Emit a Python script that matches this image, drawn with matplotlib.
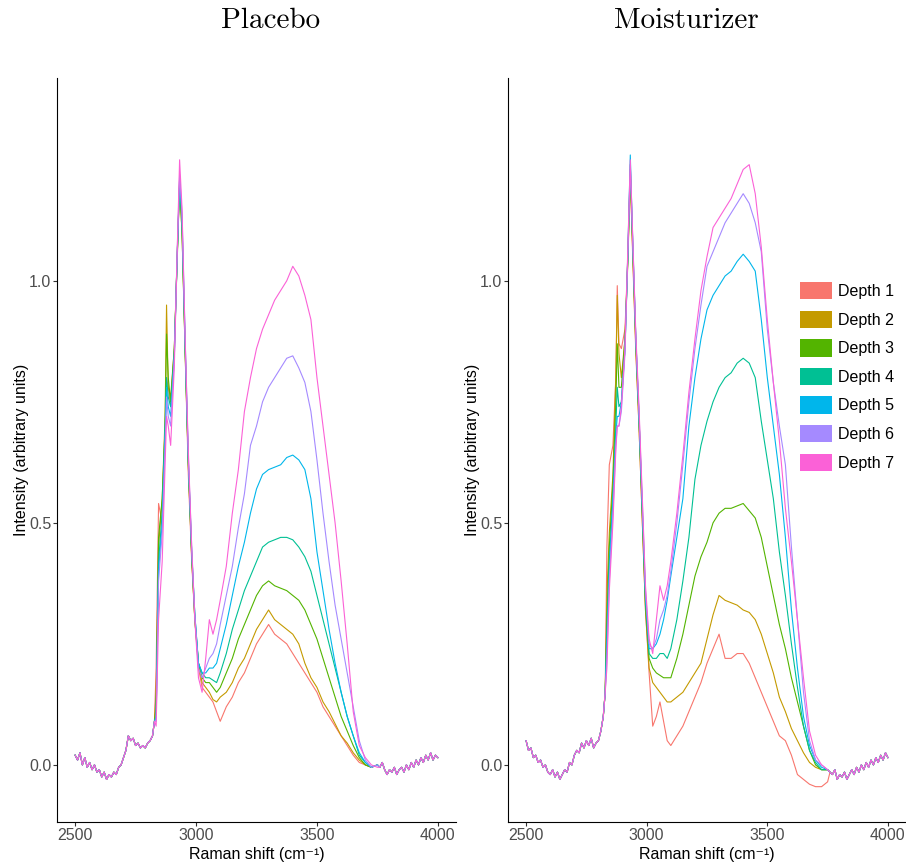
import numpy as np
import matplotlib
matplotlib.use("Agg")
import matplotlib.pyplot as plt
from matplotlib.patches import Patch

plt.rcParams["font.family"] = ["Liberation Sans", "DejaVu Sans"]
plt.rcParams["mathtext.default"] = "regular"

depths = ["Depth 1", "Depth 2", "Depth 3", "Depth 4", "Depth 5", "Depth 6", "Depth 7"]
colores = ["#F8766D", "#C49A00", "#53B400", "#00C094", "#00B6EB", "#A58AFF", "#FB61D7"]

# baseline compartida (2500-2828) y cola (3760-4000)
x_base = [2500, 2510, 2520, 2530, 2540, 2550, 2560, 2570, 2580, 2590, 2600, 2610,
          2620, 2630, 2640, 2650, 2660, 2670, 2680, 2690, 2700, 2710, 2720, 2730,
          2740, 2750, 2760, 2770, 2780, 2790, 2800, 2810, 2820, 2828]
x_medio = [2835, 2845, 2860, 2872, 2878, 2885, 2895, 2910, 2922, 2932, 2942, 2955,
           2968, 2982, 2995, 3010,
           3025, 3040, 3055, 3070, 3085, 3100, 3125, 3150, 3175, 3200, 3225, 3250,
           3275, 3300, 3325, 3350, 3375, 3400, 3425, 3450, 3475, 3500, 3525, 3550,
           3575, 3600, 3625, 3650, 3675, 3700, 3725, 3750]
x_cola = [3760, 3770, 3780, 3790, 3800, 3810, 3820, 3830, 3840, 3850, 3860, 3870,
          3880, 3890, 3900, 3910, 3920, 3930, 3940, 3950, 3960, 3970, 3980, 3990, 4000]

placebo_base = [0.02, 0.01, 0.025, 0.0, 0.015, -0.005, 0.005, -0.01, 0.0, -0.015, -0.01, -0.025,
                -0.015, -0.03, -0.02, -0.025, -0.015, -0.02, -0.005, 0.0, 0.015, 0.03, 0.06, 0.05,
                0.055, 0.04, 0.045, 0.035, 0.04, 0.035, 0.045, 0.05, 0.06, 0.09]
placebo_cola = [-0.005, 0.005, -0.01, -0.02, -0.01, -0.015, -0.005, -0.02, -0.01, -0.005,
                -0.015, 0.0, -0.01, 0.005, -0.005, 0.01, 0.0, 0.015, 0.005, 0.02,
                0.01, 0.025, 0.01, 0.02, 0.015]

placebo_d1 = [0.2, 0.54, 0.5, 0.68, 0.8, 0.78, 0.74, 0.85, 1.05, 1.2, 1.12, 0.85, 0.6, 0.42, 0.3, 0.2,
              0.16, 0.15, 0.14, 0.13, 0.11, 0.09, 0.12, 0.14, 0.17, 0.19, 0.22, 0.25, 0.27, 0.29,
              0.27, 0.26, 0.25, 0.23, 0.21, 0.19, 0.17, 0.15, 0.12, 0.10, 0.08, 0.06, 0.04, 0.02,
              0.005, 0.0, -0.005, 0.0]
placebo_d2 = [0.15, 0.45, 0.55, 0.72, 0.95, 0.78, 0.76, 0.86, 1.05, 1.2, 1.1, 0.86, 0.62, 0.43, 0.3, 0.21,
              0.17, 0.16, 0.15, 0.135, 0.13, 0.14, 0.15, 0.17, 0.2, 0.22, 0.25, 0.28, 0.3, 0.32,
              0.3, 0.29, 0.28, 0.27, 0.25, 0.21, 0.18, 0.16, 0.13, 0.11, 0.085, 0.06, 0.045, 0.025,
              0.01, 0.0, -0.005, 0.0]
placebo_d3 = [0.12, 0.47, 0.55, 0.7, 0.89, 0.8, 0.75, 0.86, 1.04, 1.2, 1.1, 0.85, 0.62, 0.43, 0.3, 0.21,
              0.18, 0.17, 0.17, 0.16, 0.15, 0.16, 0.19, 0.22, 0.26, 0.29, 0.32, 0.35, 0.37, 0.38,
              0.37, 0.365, 0.36, 0.35, 0.34, 0.32, 0.29, 0.26, 0.22, 0.18, 0.14, 0.1, 0.07, 0.04,
              0.015, 0.0, -0.005, 0.0]
placebo_d4 = [0.1, 0.42, 0.52, 0.7, 0.8, 0.76, 0.74, 0.85, 1.05, 1.21, 1.12, 0.86, 0.63, 0.44, 0.31, 0.21,
              0.19, 0.18, 0.18, 0.175, 0.17, 0.19, 0.23, 0.28, 0.32, 0.36, 0.39, 0.42, 0.45, 0.46,
              0.465, 0.47, 0.47, 0.465, 0.45, 0.43, 0.4, 0.35, 0.3, 0.25, 0.2, 0.15, 0.1, 0.06,
              0.02, 0.005, -0.005, 0.0]
placebo_d5 = [0.1, 0.4, 0.5, 0.68, 0.78, 0.74, 0.72, 0.84, 1.05, 1.21, 1.13, 0.87, 0.63, 0.44, 0.31, 0.21,
              0.19, 0.19, 0.2, 0.2, 0.21, 0.24, 0.29, 0.35, 0.41, 0.46, 0.52, 0.57, 0.6, 0.61,
              0.615, 0.62, 0.635, 0.64, 0.63, 0.61, 0.55, 0.44, 0.36, 0.28, 0.21, 0.15, 0.1, 0.06,
              0.025, 0.005, -0.005, 0.0]
placebo_d6 = [0.09, 0.38, 0.48, 0.66, 0.76, 0.72, 0.7, 0.84, 1.06, 1.22, 1.14, 0.88, 0.64, 0.45, 0.31, 0.2,
              0.18, 0.2, 0.22, 0.23, 0.25, 0.29, 0.35, 0.41, 0.49, 0.56, 0.66, 0.7, 0.75, 0.78,
              0.8, 0.82, 0.84, 0.845, 0.82, 0.79, 0.73, 0.63, 0.52, 0.42, 0.33, 0.26, 0.19, 0.12,
              0.05, 0.01, -0.005, 0.0]
placebo_d7 = [0.08, 0.3, 0.42, 0.62, 0.72, 0.7, 0.66, 0.82, 1.06, 1.25, 1.15, 0.88, 0.65, 0.45, 0.3, 0.18,
              0.15, 0.22, 0.3, 0.27, 0.3, 0.34, 0.41, 0.52, 0.61, 0.73, 0.8, 0.86, 0.9, 0.93,
              0.96, 0.98, 1.0, 1.03, 1.01, 0.97, 0.92, 0.8, 0.7, 0.6, 0.5, 0.38, 0.25, 0.11,
              0.04, 0.015, 0.0, -0.005]

moist_base = [0.05, 0.03, 0.035, 0.015, 0.02, 0.005, 0.01, -0.005, 0.0, -0.015, -0.02, -0.01,
              -0.025, -0.015, -0.03, -0.02, -0.01, -0.015, 0.005, 0.0, 0.02, 0.03, 0.025, 0.045,
              0.035, 0.05, 0.04, 0.055, 0.035, 0.045, 0.05, 0.07, 0.1, 0.15]
moist_cola = [-0.015, -0.02, -0.01, -0.03, -0.02, -0.025, -0.015, -0.03, -0.02, -0.01,
              -0.02, -0.005, -0.015, 0.0, -0.01, 0.005, -0.005, 0.01, 0.0, 0.015,
              0.005, 0.02, 0.01, 0.025, 0.015]

moist_d1 = [0.45, 0.62, 0.66, 0.8, 0.99, 0.87, 0.86, 0.9, 1.05, 1.22, 1.05, 0.85, 0.7, 0.5, 0.32, 0.19,
            0.08, 0.1, 0.13, 0.09, 0.05, 0.04, 0.06, 0.08, 0.11, 0.14, 0.17, 0.21, 0.24, 0.27,
            0.22, 0.22, 0.23, 0.23, 0.21, 0.18, 0.15, 0.12, 0.09, 0.06, 0.05, 0.02, -0.02, -0.03,
            -0.04, -0.045, -0.045, -0.035]
moist_d2 = [0.35, 0.48, 0.6, 0.8, 0.97, 0.85, 0.8, 0.88, 1.04, 1.22, 1.06, 0.86, 0.7, 0.5, 0.32, 0.2,
            0.17, 0.16, 0.15, 0.14, 0.13, 0.13, 0.14, 0.15, 0.17, 0.19, 0.21, 0.26, 0.31, 0.35,
            0.34, 0.335, 0.33, 0.32, 0.315, 0.3, 0.27, 0.23, 0.19, 0.14, 0.11, 0.075, 0.05, 0.025,
            0.005, -0.005, -0.01, -0.01]
moist_d3 = [0.3, 0.45, 0.58, 0.75, 0.87, 0.78, 0.78, 0.88, 1.05, 1.23, 1.07, 0.87, 0.72, 0.52, 0.33, 0.22,
            0.2, 0.19, 0.185, 0.18, 0.18, 0.18, 0.22, 0.27, 0.33, 0.39, 0.43, 0.46, 0.5, 0.52,
            0.53, 0.53, 0.535, 0.54, 0.525, 0.51, 0.47, 0.41, 0.35, 0.29, 0.24, 0.18, 0.13, 0.08,
            0.03, 0.0, -0.01, -0.01]
moist_d4 = [0.28, 0.42, 0.55, 0.7, 0.78, 0.74, 0.75, 0.86, 1.05, 1.24, 1.08, 0.88, 0.72, 0.52, 0.34, 0.23,
            0.22, 0.22, 0.23, 0.23, 0.22, 0.24, 0.3, 0.38, 0.47, 0.59, 0.66, 0.71, 0.75, 0.78,
            0.8, 0.81, 0.83, 0.84, 0.83, 0.8, 0.71, 0.63, 0.55, 0.44, 0.35, 0.25, 0.16, 0.08,
            0.03, 0.005, -0.01, -0.01]
moist_d5 = [0.25, 0.4, 0.55, 0.68, 0.72, 0.72, 0.75, 0.86, 1.06, 1.26, 1.08, 0.88, 0.72, 0.53, 0.35, 0.24,
            0.24, 0.25, 0.27, 0.3, 0.34, 0.39, 0.47, 0.55, 0.7, 0.8, 0.88, 0.94, 0.97, 0.99,
            1.01, 1.02, 1.04, 1.055, 1.04, 1.02, 0.92, 0.8, 0.7, 0.6, 0.47, 0.32, 0.2, 0.1,
            0.04, 0.01, -0.005, -0.01]
moist_d6 = [0.22, 0.38, 0.52, 0.66, 0.7, 0.7, 0.73, 0.85, 1.06, 1.24, 1.09, 0.88, 0.73, 0.54, 0.36, 0.25,
            0.24, 0.26, 0.3, 0.32, 0.35, 0.4, 0.5, 0.62, 0.75, 0.86, 0.95, 1.03, 1.06, 1.09,
            1.12, 1.14, 1.16, 1.18, 1.16, 1.12, 1.06, 0.9, 0.79, 0.7, 0.62, 0.45, 0.3, 0.15,
            0.05, 0.01, 0.0, -0.01]
moist_d7 = [0.2, 0.36, 0.5, 0.65, 0.7, 0.7, 0.74, 0.86, 1.07, 1.25, 1.09, 0.89, 0.74, 0.55, 0.37, 0.26,
            0.23, 0.3, 0.37, 0.34, 0.37, 0.42, 0.52, 0.64, 0.77, 0.88, 0.98, 1.05, 1.11, 1.13,
            1.15, 1.17, 1.2, 1.23, 1.24, 1.18, 1.07, 0.92, 0.79, 0.67, 0.53, 0.42, 0.3, 0.18,
            0.07, 0.02, 0.0, -0.01]

paneles = {
    "Placebo": (placebo_base, [placebo_d1, placebo_d2, placebo_d3, placebo_d4,
                               placebo_d5, placebo_d6, placebo_d7], placebo_cola),
    "Moisturizer": (moist_base, [moist_d1, moist_d2, moist_d3, moist_d4,
                                 moist_d5, moist_d6, moist_d7], moist_cola),
}

W, H = 906, 865
fig = plt.figure(figsize=(W / 100, H / 100), dpi=100)

posiciones = {"Placebo": (57, 456, 271), "Moisturizer": (508, 906, 686)}
x_todo = np.array(x_base + x_medio + x_cola)

for nombre, (base, series, cola) in paneles.items():
    izq, der, centro_titulo = posiciones[nombre]
    ax = fig.add_axes([izq / W, (H - 822) / H, (der - izq) / W, (822 - 78) / H])
    for depth, color, medio in zip(depths, colores, series):
        y = np.array(base + medio + cola)
        ax.plot(x_todo, y, color=color, lw=0.8, label=depth)

    ax.set_xlim(2425, 4075)
    ax.set_ylim(-0.118, 1.419)
    ax.set_xticks([2500, 3000, 3500, 4000])
    ax.set_yticks([0.0, 0.5, 1.0])
    ax.set_yticklabels(["0.0", "0.5", "1.0"])
    for lado in ["top", "right"]:
        ax.spines[lado].set_visible(False)
    for lado in ["left", "bottom"]:
        ax.spines[lado].set_color("black")
        ax.spines[lado].set_linewidth(0.8)
    ax.tick_params(colors="#333333", labelcolor="#4D4D4D", labelsize=11.5,
                   length=3, width=0.8, pad=1)
    ax.set_xlabel("Raman shift (cm\u207b\u00b9)", fontsize=11.5)
    ax.set_ylabel("Intensity (arbitrary units)", fontsize=11.5)
    ax.xaxis.set_label_coords(0.5, -0.0435)
    ax.xaxis.label.set_va("center")
    ax.yaxis.set_label_coords(-0.09, 0.5)
    ax.yaxis.label.set_va("center")

    fig.text(centro_titulo / W, 1 - 21 / H, nombre, ha="center", va="center",
             family="cmr10", fontsize=21)

handles = [Patch(facecolor=c, edgecolor="none") for c in colores]
fig.legend(handles, depths, loc="upper left", bbox_to_anchor=(800 / W, 1 - 282 / H),
           frameon=False, fontsize=11.5, handlelength=2.0, handleheight=1.3,
           handletextpad=0.35, labelspacing=0.7, borderpad=0, borderaxespad=0)

fig.savefig("out.png", dpi=100)
